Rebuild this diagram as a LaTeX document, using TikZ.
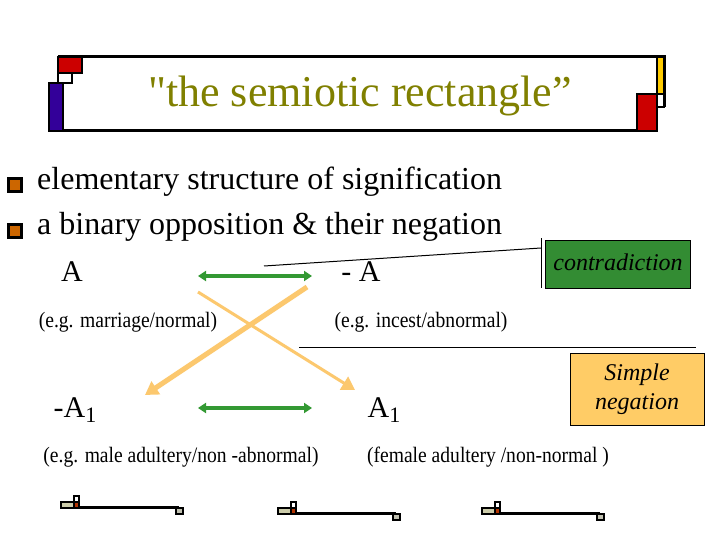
\documentclass[tikz,border=0pt]{standalone}
\usepackage{fontspec}
\setmainfont{Liberation Serif}
\newfontfamily\titlefont{Liberation Serif}
\newfontfamily\egfont[FakeStretch=0.89]{Liberation Serif}
\usepackage{xcolor}
\usetikzlibrary{arrows.meta}
\definecolor{titleolive}{RGB}{128,128,0}
\definecolor{monred}{RGB}{204,0,0}
\definecolor{monblue}{RGB}{51,0,153}
\definecolor{monyellow}{RGB}{255,204,0}
\definecolor{bulorange}{RGB}{204,102,0}
\definecolor{oppgreen}{RGB}{51,153,51}
\definecolor{contgreen}{RGB}{51,140,51}
\definecolor{negorange}{RGB}{255,204,102}
\definecolor{crossorange}{RGB}{252,200,110}
\definecolor{decobeige}{RGB}{204,204,170}
\definecolor{decobrown}{RGB}{178,51,0}
\definecolor{decogray}{RGB}{192,192,176}

\begin{document}
\begin{tikzpicture}[x=1pt, y=-1pt,
      frame/.style={draw, line width=3pt},
      blk/.style={draw, line width=2pt},
      deco/.style={draw, line width=2.2pt},
      bullet/.style={draw, line width=3pt, fill=bulorange, minimum size=13pt, inner sep=0pt},
      item/.style={anchor=west, inner sep=0pt, font=\fontsize{32}{34}\selectfont},
      term/.style={inner sep=0pt, font=\fontsize{30}{32}\selectfont},
      eg/.style={inner sep=0pt, font=\egfont\fontsize{22}{24}\selectfont},
      tag/.style={draw, thick, align=center, font=\fontsize{24}{29}\selectfont\itshape},
      opp/.style={{Triangle[length=8pt,width=10pt]}-{Triangle[length=8pt,width=10pt]},
                  line width=3.3pt, oppgreen},
      cross/.style={-{Triangle[length=13pt,width=15pt]}, crossorange}]
    \useasboundingbox[fill=white] (0,0) rectangle (720,540);

    % title frame
    \draw[frame] (58,57) -- (664,57) -- (664,107);
    \draw[frame] (63,131) -- (657,131);
    \draw[blk, fill=monred] (58,57) rectangle (82,73);
    \draw[blk, fill=white] (58,73) rectangle (72,83);
    \draw[blk, fill=monblue] (49,83) rectangle (63,131);
    \draw[blk, fill=monyellow] (657,57) rectangle (664,94);
    \draw[blk, fill=white] (657,94) rectangle (664,107);
    \draw[blk, fill=monred] (637,94) rectangle (657,131);
    \node[font=\titlefont\fontsize{44}{48}\selectfont, text=titleolive] (title) at (360,96)
      {"the semiotic rectangle”};

    % bullets
    \node[bullet] (b1) at (15,185) {};
    \node[item] (i1) at (37,182) {elementary structure of signification};
    \node[bullet] (b2) at (15,231) {};
    \node[item] (i2) at (37,227) {a binary opposition \& their negation};

    % the four terms
    \node[term] (A) at (72,272) {A};
    \node[term] (negA) at (361,272) {- A};
    \node[term] (negAone) at (75,410) {-A\raisebox{-0.35ex}{\fontsize{22}{22}\selectfont 1}};
    \node[term] (Aone) at (384,410) {A\raisebox{-0.35ex}{\fontsize{22}{22}\selectfont 1}};
    \node[eg] (egA) at (128,322) {(e.g. marriage/normal)};
    \node[eg] (egnegA) at (421,322) {(e.g. incest/abnormal)};
    \node[eg] (egnegAone) at (181,457) {(e.g. male adultery/non -abnormal)};
    \node[eg] (egAone) at (488,457) {(female adultery /non-normal )};

    % side boxes
    \node[tag, fill=contgreen, minimum width=145pt, minimum height=48pt] (contra) at (618,264)
      {\raisebox{4pt}{contradiction}};
    \node[tag, fill=negorange, minimum width=134pt, minimum height=72pt] (simple) at (637,389)
      {Simple\\negation};

    % arrows
    \coordinate (oppTl) at (198,276);
    \coordinate (oppTr) at (312,276);
    \coordinate (oppBl) at (198,408);
    \coordinate (oppBr) at (312,408);
    \draw[opp] (oppTl) -- (oppTr);
    \draw[opp] (oppBl) -- (oppBr);
    \coordinate (crossA) at (198,292);
    \coordinate (crossAone) at (355,390);
    \coordinate (crossnegA) at (307,287);
    \coordinate (crossnegAone) at (145,395);
    \draw[cross, line width=3pt] (crossA) -- (crossAone);
    \draw[cross, line width=5pt] (crossnegA) -- (crossnegAone);

    % pointer lines
    \coordinate (contraEnd) at (264,266);
    \coordinate (contraBarT) at (541,238);
    \coordinate (contraBarB) at (541,288);
    \coordinate (simpleL) at (299,347);
    \coordinate (simpleR) at (696,347);
    \draw[line width=1pt] (contraEnd) -- (contraBarT |- 0,248);
    \draw[line width=1pt] (contraBarT) -- (contraBarB);
    \draw[line width=1pt] (simpleL) -- (simpleR);

    % footer marks
    \foreach \dx/\dy in {0/0, 217/6, 421/6} {
      \begin{scope}[shift={(\dx,\dy)}]
        \draw[deco, fill=decobeige] (61,502) rectangle (74,508);
        \draw[deco, fill=white] (74,496) rectangle (79,502);
        \draw[deco, fill=decobrown] (74,502) rectangle (79,508);
        \draw[deco] (79,507.5) -- (179,507.5);
        \draw[deco, fill=decogray] (176,508) rectangle (183,514);
      \end{scope}}
  \end{tikzpicture}
\end{document}
